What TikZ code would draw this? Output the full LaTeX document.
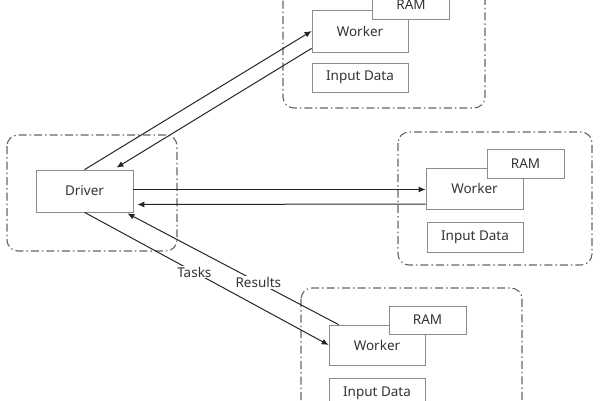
\documentclass[tikz,border=0pt]{standalone}
\usepackage{fontspec}
\setmainfont{Noto Sans}
\usetikzlibrary{arrows.meta,calc}
\begin{document}
\begin{tikzpicture}[x=1pt,y=-1pt,
  box/.style={draw=black!45,line width=0.7pt,fill=white,inner sep=0pt,font=\fontsize{13.5}{15}\selectfont,text=black!80},
  grp/.style={draw=black!60,line width=1.1pt,rounded corners=11pt,dash pattern=on 8pt off 3pt on 1.5pt off 3pt},
  arr/.style={draw=black!85,line width=1pt,-{Latex[length=7pt,width=6pt]}},
  lbl/.style={fill=white,inner sep=1pt,font=\fontsize{13.5}{15}\selectfont,text=black!80}]
\useasboundingbox (0,0) rectangle (600,400);
% containers
\draw[grp] (7,135) rectangle (177,251);
\draw[grp] (283,-26) rectangle (485,108);
\draw[grp] (398,132) rectangle (592,265);
\draw[grp] (301,288) rectangle (522,422);
% driver
\node[box,minimum width=97pt,minimum height=42pt] (drv) at (84.5,191) {Driver};
% top group
\node[box,minimum width=96pt,minimum height=42pt] (w1) at (360,31) {Worker};
\node[box,minimum width=77pt,minimum height=29pt] (r1) at (411,5) {RAM};
\node[box,minimum width=96pt,minimum height=29pt] (i1) at (360,77.5) {Input Data};
% right group
\node[box,minimum width=97pt,minimum height=41pt] (w2) at (474.5,188.5) {Worker};
\node[box,minimum width=77pt,minimum height=29pt] (r2) at (525.5,163.5) {RAM};
\node[box,minimum width=96pt,minimum height=30pt] (i2) at (475,237) {Input Data};
% bottom group
\node[box,minimum width=96pt,minimum height=40pt] (w3) at (377,345) {Worker};
\node[box,minimum width=77pt,minimum height=28pt] (r3) at (427.5,320) {RAM};
\node[box,minimum width=96pt,minimum height=30pt] (i3) at (377,393) {Input Data};
% connectors
\draw[arr] (drv.north) -- (w1.west);
\draw[arr] ($(w1.south west)+(0,-4)$) -- ($(drv.north)+(32,-2)$);
\draw[arr] ($(drv.east)+(0,-1.5)$) -- ($(w2.west)+(0,1)$);
\draw[arr] ($(w2.west)+(0,15.5)$) -- ($(drv.east)+(4,13.5)$);
\draw[arr] (drv.south) -- (w3.west) node[lbl,pos=0.45] {Tasks};
\draw[arr] ($(w3.north west)+(10,0)$) -- ($(drv.south east)+(-6,1)$) node[lbl,pos=0.38] {Results};
\end{tikzpicture}
\end{document}
